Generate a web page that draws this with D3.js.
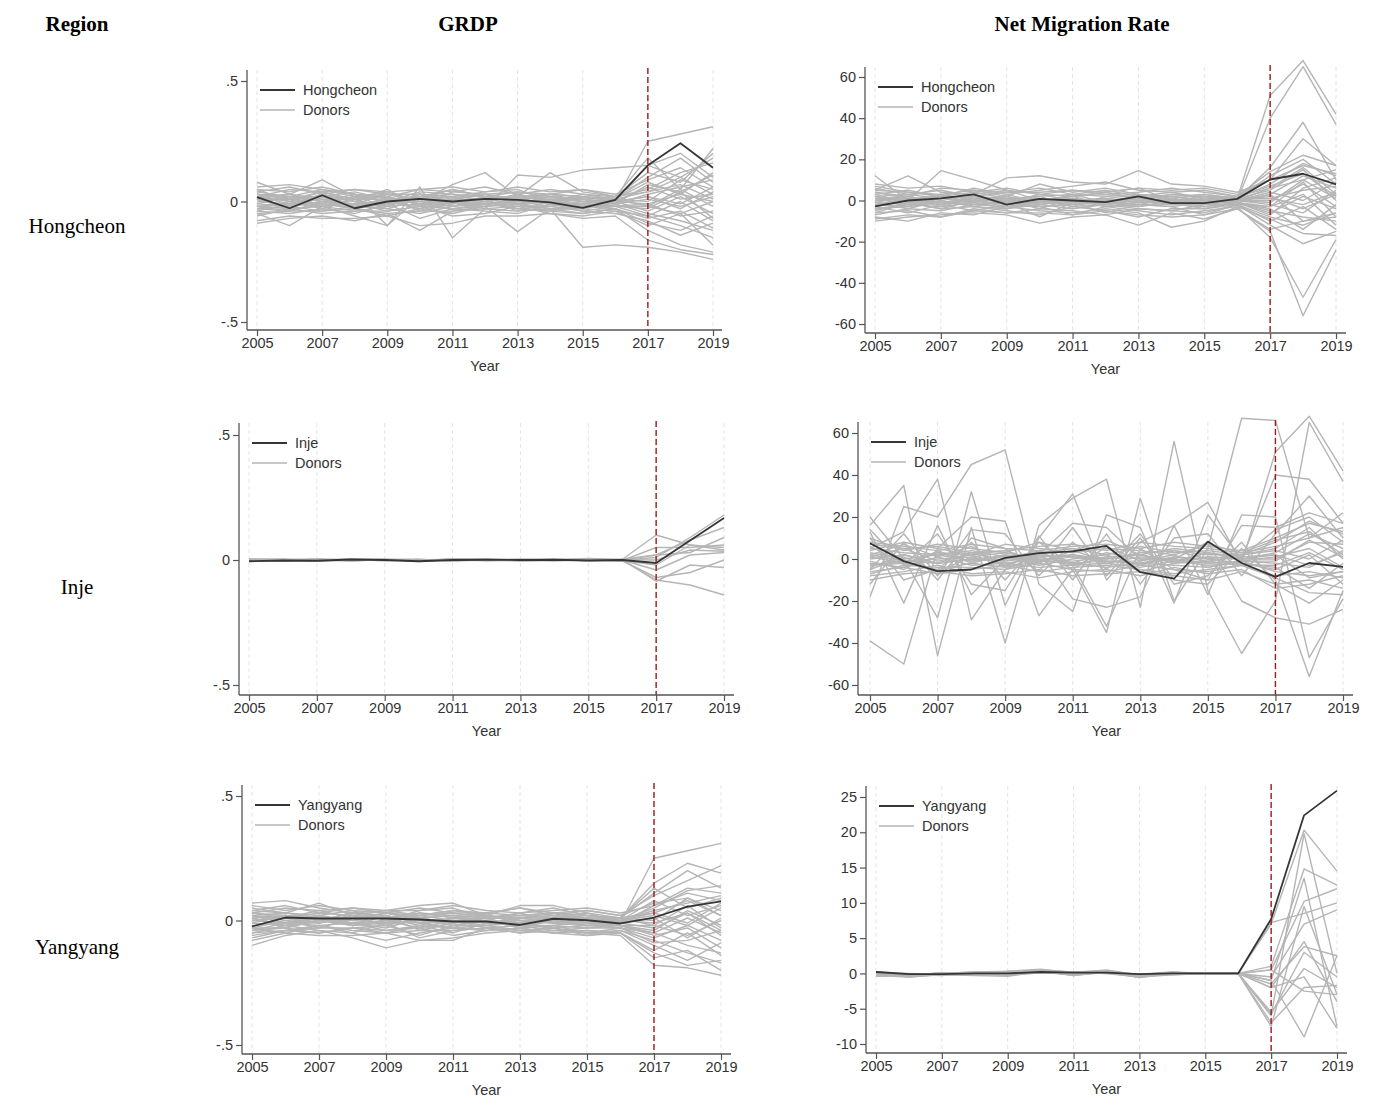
<!DOCTYPE html>
<html>
<head>
<meta charset="utf-8">
<script src="https://cdn.jsdelivr.net/npm/d3@7"></script>
<style>
  body { margin: 0; background: #fff; }
  svg { display: block; }
  .tick text { font-family: "Liberation Sans", Arial, sans-serif; font-size: 14.5px; fill: #333; }
  .axis-title, .legend-text { font-family: "Liberation Sans", Arial, sans-serif; font-size: 14.5px; fill: #333; }
  .head { font-family: "Liberation Serif", "Times New Roman", serif; font-size: 21px; font-weight: bold; fill: #000; }
  .rowlab { font-family: "Liberation Serif", "Times New Roman", serif; font-size: 21px; fill: #000; }
</style>
</head>
<body>
<svg id="chart" width="1376" height="1100"></svg>
<script>
const years = d3.range(2005, 2020);
const xTicks = [2005, 2007, 2009, 2011, 2013, 2015, 2017, 2019];
const treatYear = 2017;

const columnHeads = ["Region", "GRDP", "Net Migration Rate"];
const regions = ["Hongcheon", "Inje", "Yangyang"];

const grdpTicks = [-0.5, 0, 0.5];
const nmrTicks = [-60, -40, -20, 0, 20, 40, 60];
const yangNmrTicks = [-10, -5, 0, 5, 10, 15, 20, 25];

// treated regions
const hongcheonGrdp = [0.018, -0.028, 0.026, -0.028, 0.0, 0.011, 0.0, 0.011, 0.007, -0.004, -0.026, 0.007, 0.15, 0.242, 0.14];
const hongcheonNmr = [-2.8, 0, 1, 3, -2, 0.8, 0, -0.8, 2, -1.3, -1.3, 0.8, 10.2, 13, 7.8];
const injeGrdp = [-0.005, -0.002, -0.003, 0.002, 0, -0.005, 0, 0.001, 0, 0.001, -0.002, 0, -0.012, 0.078, 0.168];
const injeNmr = [7.5, -1, -5.8, -5, 0.5, 2.8, 3.6, 6.2, -6.3, -9.4, 8.3, -1.9, -8.5, -1.9, -3.8];
const yangyangGrdp = [-0.024, 0.012, 0.008, 0.008, 0.008, 0.004, -0.004, -0.004, -0.018, 0.007, 0.001, -0.012, 0.012, 0.056, 0.077];
const yangyangNmr = [0.2, -0.1, -0.1, 0, 0, 0.2, 0.1, 0.1, -0.1, 0, 0, 0, 7.7, 22.4, 25.9];

// donor pools
const hongcheonGrdpDonors = [
  [0.06,0.07,0.05,0.02,0.03,0.01,0.05,0.02,0.00,0.03,0.02,0.00,0.25,0.28,0.31],
  [-0.09,-0.07,-0.06,-0.08,-0.05,-0.12,-0.04,-0.02,-0.125,-0.03,-0.19,-0.18,-0.19,-0.21,-0.24],
  [0.08,0.03,0.09,0.02,0.04,0.00,0.07,0.12,0.02,0.12,0.04,0.02,0.18,0.05,0.22],
  [-0.05,-0.10,-0.02,-0.06,-0.10,0.06,-0.15,-0.03,0.11,0.10,0.13,0.14,0.15,0.20,0.10],
  [0.02,0.05,0.04,0.05,0.03,0.03,0.02,0.04,0.05,0.00,0.02,0.01,0.10,0.18,0.08],
  [-0.03,-0.02,-0.04,-0.02,-0.03,-0.05,-0.02,-0.01,-0.03,-0.04,-0.05,-0.03,-0.12,-0.18,-0.21],
  [0.03,0.01,0.02,0.04,0.01,0.02,0.03,0.02,0.04,0.02,0.01,0.02,0.05,0.12,0.16],
  [-0.02,-0.04,-0.01,-0.03,-0.06,-0.03,-0.05,-0.02,-0.01,-0.03,-0.03,-0.04,-0.06,-0.10,-0.15],
  [0.01,0.03,0.00,0.02,0.02,-0.01,0.01,0.03,0.01,0.02,0.00,-0.01,0.03,0.06,0.09],
  [0.00,-0.01,0.03,0.00,-0.02,0.02,0.00,0.01,-0.01,0.00,-0.02,0.00,-0.04,0.02,-0.05],
  [0.04,0.02,0.05,0.03,0.00,0.04,0.03,0.00,0.03,0.05,0.03,0.01,0.08,0.03,0.12],
  [-0.04,-0.05,-0.03,-0.05,-0.01,-0.07,-0.03,-0.04,-0.05,-0.01,-0.04,-0.05,-0.08,-0.14,-0.09],
  [0.02,0.00,0.01,-0.01,0.03,0.00,-0.01,0.01,0.02,0.01,0.00,0.00,0.02,-0.03,0.04],
  [-0.01,0.02,-0.02,0.01,-0.03,0.01,0.02,-0.01,0.00,-0.02,-0.01,-0.02,-0.02,0.05,-0.02],
  [0.05,0.04,0.06,0.03,0.02,0.05,0.04,0.03,0.04,0.03,0.05,0.02,0.12,0.08,0.20],
  [-0.06,-0.03,-0.05,-0.04,-0.04,-0.02,-0.06,-0.05,-0.02,-0.05,-0.06,-0.04,-0.10,-0.05,-0.18],
  [0.00,0.01,-0.01,0.02,0.00,-0.02,0.01,0.00,-0.02,0.01,0.02,0.01,0.00,0.09,0.05],
  [-0.02,-0.01,0.01,-0.02,0.01,-0.01,-0.02,0.02,0.01,-0.01,-0.01,-0.01,-0.05,-0.08,-0.12],
  [0.01,-0.03,0.02,0.00,-0.01,0.03,0.00,-0.02,0.00,0.01,-0.02,0.00,0.06,0.01,0.03],
  [-0.03,0.00,-0.03,0.01,0.02,-0.04,-0.01,0.01,-0.04,0.00,0.01,-0.02,-0.03,0.04,-0.07],
  [0.03,0.02,0.00,0.03,-0.10,0.02,0.05,0.02,0.01,0.03,0.02,0.01,0.15,0.10,0.18],
  [-0.08,-0.06,-0.07,-0.07,-0.06,-0.10,-0.09,-0.06,-0.06,-0.05,-0.07,-0.06,-0.16,-0.20,-0.22],
  [0.04,0.06,0.03,0.05,0.04,0.05,0.06,0.04,0.06,0.04,0.05,0.03,0.09,0.14,0.06],
  [-0.01,-0.02,0.00,-0.01,0.00,-0.03,0.00,-0.03,-0.02,-0.02,0.00,-0.01,0.01,-0.02,0.02],
  [0.02,0.03,0.01,0.01,0.01,0.01,-0.02,0.00,0.03,-0.01,0.01,0.00,-0.01,0.03,0.00],
  [-0.05,-0.04,-0.04,-0.03,-0.05,-0.04,-0.04,-0.03,-0.04,-0.03,-0.05,-0.03,-0.07,-0.04,-0.11],
  [0.05,0.00,0.04,0.00,0.05,-0.02,0.04,0.06,0.03,0.00,0.03,0.02,0.04,0.07,0.01],
  [-0.02,-0.03,-0.02,-0.04,-0.02,-0.01,-0.03,-0.01,-0.01,-0.04,-0.02,-0.02,-0.01,-0.06,-0.04],
  [0.01,-0.02,0.03,-0.02,0.00,0.01,-0.01,0.02,0.00,-0.01,-0.03,0.00,0.02,-0.01,0.06],
  [-0.03,-0.04,0.00,-0.03,-0.01,0.00,-0.02,0.00,-0.03,-0.02,-0.04,-0.02,-0.06,0.00,-0.08],
  [0.03,0.01,0.04,0.01,0.03,0.01,0.02,0.01,0.02,0.03,0.00,0.01,0.04,0.10,0.03],
  [-0.04,-0.01,-0.02,-0.01,-0.04,-0.02,-0.03,-0.02,-0.01,-0.03,-0.02,-0.03,-0.09,-0.12,-0.06],
  [0.00,0.02,0.02,-0.03,0.02,-0.01,0.00,-0.01,0.01,0.02,0.01,-0.01,0.07,0.04,0.11],
  [0.02,-0.01,-0.01,0.02,-0.02,0.03,0.01,0.03,-0.01,0.00,-0.01,0.01,-0.02,-0.05,0.00]
];

const hongcheonNmrDonors = [
  [2,-1,3,0,1,-2,0,1,-1,2,0,1,51,68,42],
  [-4,-2,-3,-1,-4,0,-3,-2,-3,-1,-2,0,40,65,37],
  [12,0,14.5,10,5,3,2,4,1,3,2,1,16,38,10],
  [-10,-8,-7,-6,-7,-11,-8,-7,-12,-6,-9,-4,-15,-56,-24],
  [5,12,4,3,11,12,9,8,14.5,8,7,4,10,30,17],
  [-8,-10,-6,-7,-3,-5,-6,-4,-6,-13,-10,-3,-18,-47,-19],
  [7,4,2,6,3,5,7,9,5,4,5,2,14,22,17],
  [-6,-5,-8,-4,-6,-4,-5,-7,-4,-5,-6,-2,-12,-21,-15],
  [3,5,2,4,1,2,3,2,3,1,3,1,8,18,12],
  [-2,-3,-1,-2,-3,-1,-2,-1,-2,-3,-1,-1,-5,-8,-10],
  [0,1,-1,1,0,1,-1,0,1,0,-1,0,3,12,6],
  [6,3,5,2,4,4,5,3,4,6,4,2,6,10,15],
  [-5,-1,-4,-3,-5,-7,-3,-5,-8,-4,-4,-2,-8,-12,-6],
  [1,-2,2,-1,2,-2,1,-2,0,-1,1,0,2,-4,3],
  [4,2,6,5,2,8,4,6,3,2,3,1,12,20,8],
  [-3,-6,-2,-5,-2,-3,-7,-3,-5,-7,-5,-3,-9,-16,-17],
  [2,3,1,3,5,0,2,4,6,0,2,1,5,15,0],
  [-7,-4,-5,-2,-1,-8,-1,-6,-2,-3,-7,-2,-3,3,-12],
  [1,0,3,-2,-1,3,0,1,-1,1,-1,0,0,8,-3],
  [-1,2,-2,0,-2,-1,3,-1,2,-2,0,0,-2,-6,5],
  [8,6,7,4,6,3,5,4,6,5,6,3,10,17,13],
  [-9,-7,-8,-5,-6,-6,-7,-5,-7,-8,-7,-4,-14,-10,-8],
  [3,-1,1,2,-2,2,-3,2,0,3,2,0,4,0,9],
  [-2,1,-3,1,0,-4,1,-3,-2,-2,-3,-1,-6,2,-4],
  [5,4,3,5,4,6,3,5,2,4,1,2,7,13,2],
  [-4,-3,0,-3,-4,-2,-4,-2,-4,-5,-2,-2,-10,-3,-14],
  [0,2,-1,0,2,-1,2,-2,3,-2,1,1,1,5,7],
  [-1,-2,2,-1,1,0,-1,1,-1,0,-3,-1,-4,-14,-2],
  [-3,0,-2,2,-1,1,-2,0,-2,1,-2,0,-1,10,1],
  [2,-3,1,-1,3,-1,1,-1,2,-2,1,-1,3,-10,-6],
  [-6,-1,-4,0,-3,-2,0,-3,-1,-1,-4,-1,-7,6,11],
  [4,1,2,1,-1,3,2,3,1,2,0,1,1,-2,4],
  [-1,-4,0,-3,0,-3,-2,-1,-3,0,-1,-1,-3,9,-8],
  [1,2,-2,2,1,0,1,-2,1,-1,2,0,6,16,3]
];

const injeGrdpDonors = [
  [0.004,0.002,-0.005,0.003,0.001,-0.004,0.005,0.002,0.001,-0.002,0.006,0.002,0.10,0.06,0.04],
  [-0.003,0.001,0.002,-0.002,0,0.003,-0.004,0,0.003,0.001,-0.002,0,0.02,0.08,0.13],
  [0.002,-0.003,0.004,0.001,-0.002,-0.001,0.002,-0.003,-0.002,0.003,0.004,-0.002,0.05,0.05,0.06],
  [-0.005,0.003,-0.002,0.004,0.002,-0.006,0.001,0.003,-0.004,0,0.002,0.003,0.02,0.03,0.09],
  [0.001,0,0.003,-0.003,0.003,0.002,-0.002,0.001,0.002,-0.003,0,0.001,0,0.04,0.035],
  [-0.001,-0.004,0.001,0.002,-0.001,-0.002,0.003,-0.001,0,0.002,-0.003,-0.002,-0.02,0.06,0.05],
  [0.003,0.002,-0.003,0,0.001,0.001,-0.003,0.002,-0.001,-0.001,0.003,0,-0.04,0.02,0.03],
  [-0.002,-0.001,0,-0.004,0.002,-0.003,0,-0.002,0.001,0.002,-0.001,-0.003,-0.07,-0.05,0.0],
  [0.002,0.001,-0.001,0.002,-0.003,0.001,0.002,0.001,-0.003,-0.002,0.001,-0.001,-0.08,-0.10,-0.14],
  [0,0.003,0.002,-0.001,0,-0.002,-0.001,0.003,0.002,0.001,-0.002,0.002,-0.085,-0.02,-0.03],
  [-0.004,-0.002,0.001,0.001,0.002,0,0.001,-0.001,0,0.001,0.002,-0.001,0.01,0.09,0.18]
];

const injeNmrDonors = [
  [20,0,-28,32,-22,10,31,-10,8,16,27,-2,51,68,42],
  [-39,-50,5,20,18,-27,-5,-35,29,-20,5,67,66,10,22],
  [16,35,-46,15,-40,16,29,38,-23,56,-15,-45,-20,65,37],
  [-18,25,20,45,52,-12,-25,21,15,-21,21,0,40,38,17],
  [13,-21,16,-17,0,4,-19,-23,-18,16,-17,21,20,-47,-19],
  [5,13,38,-29,-5,2,17,15,0,0,8,-20,-28,-31,-24],
  [10,-10,-5,8,-10,8,-3,-32,5,-5,-10,16,15,22,17],
  [-5,12,-8,14,12,-8,8,-5,12,-10,-12,5,-10,-56,-15],
  [14,-3,12,-12,-15,11,-10,12,-12,10,12,-8,12,30,10],
  [-12,8,-10,10,5,-6,15,-8,10,-12,-8,8,-12,-21,-10],
  [5,3,2,4,1,3,5,2,6,3,4,2,8,18,12],
  [-6,-4,-7,-5,-3,-6,-4,-3,-5,-7,-5,-3,-9,-16,-17],
  [8,6,4,7,5,4,6,7,5,8,6,4,10,17,13],
  [-3,-2,-5,-2,-4,-1,-2,-4,-2,-3,-4,-1,-6,-8,-6],
  [2,-1,0,1,3,0,-1,1,2,-2,1,0,3,12,5],
  [-8,-6,-3,-7,-6,-9,-6,-5,-8,-4,-7,-5,-14,-12,-8],
  [0,2,-2,3,-1,2,1,-1,-2,1,-1,1,2,-3,3],
  [4,8,5,2,7,5,3,5,4,2,7,3,6,10,15],
  [-2,-4,1,-3,-2,-4,-3,-2,-4,-1,-3,-2,-4,-14,-2],
  [10,4,7,5,3,8,4,9,2,5,3,1,14,20,8],
  [-10,-7,-6,-8,-7,-5,-8,-7,-6,-8,-10,-6,-12,-10,-14],
  [3,0,2,-1,0,1,2,-2,1,0,-2,-1,1,5,-4],
  [-4,2,-2,0,1,-3,0,2,-3,1,0,-2,-5,2,-12],
  [6,-2,3,2,4,-1,2,0,3,4,2,2,5,15,0],
  [-7,-3,-4,-4,-5,-2,-5,-6,-3,-5,-6,-3,-8,-6,-9],
  [1,5,-1,2,-3,3,-2,3,0,-1,3,0,0,8,7],
  [-1,-5,4,-2,2,-2,4,-1,-1,2,-4,-1,-2,-4,4],
  [7,5,6,3,4,6,7,4,8,6,5,3,9,13,2],
  [-5,1,-6,1,-2,0,-3,1,-6,-2,-1,-3,-3,3,-5],
  [2,7,1,6,-4,4,-5,6,-1,4,0,2,4,0,9],
  [-3,-1,-2,0,-1,1,-2,-1,-2,0,-2,-1,-1,9,1],
  [1,-2,3,-1,2,-1,1,0,2,-1,1,0,2,-9,-6]
];

const yangyangGrdpDonors = [
  [0.07,0.08,0.05,0.03,0.04,0.02,0.03,0.01,0.02,0.01,0.03,-0.01,0.25,0.28,0.31],
  [-0.10,-0.06,-0.04,-0.07,-0.11,-0.08,-0.08,-0.03,-0.05,-0.04,-0.05,-0.06,-0.18,-0.19,-0.22],
  [0.05,0.03,0.07,0.02,0.04,0.06,0.07,0.02,0.06,0.06,0.03,0.01,0.15,0.23,0.19],
  [-0.07,-0.04,-0.02,-0.05,-0.08,-0.05,-0.03,-0.04,-0.03,-0.05,-0.04,-0.05,-0.15,-0.12,-0.20],
  [0.03,0.05,0.04,0.05,0.03,0.02,0.04,0.03,0.05,0.02,0.04,0.02,0.10,0.16,0.22],
  [-0.04,-0.03,-0.05,-0.03,-0.02,-0.06,-0.02,-0.02,-0.04,-0.03,-0.06,-0.04,-0.08,-0.13,-0.17],
  [0.02,0.01,0.03,0.02,0.01,0.03,0.02,0.03,0.02,0.03,0.01,0.00,0.05,0.12,0.14],
  [-0.03,-0.05,-0.02,-0.04,-0.05,-0.02,-0.05,-0.01,-0.02,-0.04,-0.03,-0.03,-0.05,-0.10,-0.13],
  [0.01,0.02,0.00,0.03,0.02,-0.01,0.01,0.02,0.00,0.01,0.02,0.00,0.04,0.07,0.10],
  [0.00,-0.01,0.02,-0.01,-0.03,0.01,-0.01,0.00,-0.02,0.00,-0.01,-0.01,-0.03,0.03,-0.06],
  [0.04,0.03,0.02,0.04,0.00,0.04,0.05,0.01,0.03,0.05,0.02,0.01,0.13,0.05,0.09],
  [-0.05,-0.02,-0.04,-0.05,-0.01,-0.07,-0.04,-0.03,-0.05,-0.02,-0.05,-0.04,-0.10,-0.16,-0.09],
  [0.02,0.00,0.01,0.00,0.03,0.00,0.00,0.01,0.01,0.02,0.00,0.00,0.02,-0.02,0.05],
  [-0.01,0.02,-0.01,0.01,-0.02,0.01,0.02,-0.01,0.00,-0.01,-0.02,-0.02,-0.02,0.06,-0.03],
  [0.06,0.04,0.06,0.04,0.03,0.05,0.03,0.03,0.05,0.03,0.04,0.02,0.07,0.09,0.04],
  [-0.06,-0.04,-0.05,-0.03,-0.04,-0.03,-0.06,-0.04,-0.03,-0.05,-0.04,-0.05,-0.12,-0.05,-0.14],
  [0.00,0.01,-0.01,0.02,0.01,-0.02,0.01,0.00,-0.01,0.01,0.01,0.01,0.00,0.09,0.02],
  [-0.02,-0.01,0.01,-0.02,0.00,-0.01,-0.03,0.02,0.00,-0.01,-0.01,-0.02,-0.06,-0.03,-0.11],
  [0.01,-0.03,0.02,0.00,-0.01,0.02,0.00,-0.02,0.01,0.00,-0.02,0.00,0.08,0.02,0.06],
  [-0.03,0.00,-0.03,0.01,0.02,-0.04,-0.01,0.01,-0.03,0.00,0.01,-0.02,-0.04,0.04,-0.02],
  [0.03,0.02,0.00,0.03,0.01,0.02,0.04,0.02,0.01,0.03,0.02,0.01,0.11,0.20,0.13],
  [-0.08,-0.05,-0.06,-0.06,-0.05,-0.08,-0.07,-0.05,-0.04,-0.05,-0.06,-0.05,-0.13,-0.18,-0.16],
  [0.04,0.06,0.03,0.05,0.04,0.04,0.06,0.04,0.03,0.04,0.05,0.03,0.06,0.11,0.08],
  [-0.01,-0.02,0.00,-0.01,0.00,-0.03,0.00,-0.03,-0.02,-0.02,0.00,-0.01,0.01,-0.07,0.01],
  [0.02,0.03,0.01,0.01,0.01,0.01,-0.02,0.00,0.03,-0.01,0.01,0.00,-0.01,0.03,-0.04],
  [-0.05,-0.04,-0.03,-0.03,-0.05,-0.04,-0.04,-0.03,-0.04,-0.03,-0.05,-0.03,-0.07,-0.02,-0.08],
  [0.01,-0.02,0.02,-0.02,0.00,0.01,-0.01,0.02,0.00,-0.01,-0.02,0.00,0.03,-0.01,0.07],
  [-0.03,-0.03,0.00,-0.02,-0.01,0.00,-0.02,0.00,-0.03,-0.02,-0.03,-0.02,-0.05,0.01,-0.05],
  [0.03,0.01,0.04,0.01,0.03,0.01,0.02,0.01,0.02,0.03,0.00,0.01,0.03,0.08,0.02],
  [-0.04,-0.01,-0.02,-0.01,-0.04,-0.02,-0.03,-0.02,-0.01,-0.03,-0.02,-0.03,-0.09,-0.08,-0.04],
  [0.00,0.02,0.01,-0.02,0.02,-0.01,0.00,-0.01,0.01,0.02,0.01,-0.01,0.06,0.13,0.11],
  [0.02,-0.01,-0.01,0.02,-0.02,0.03,0.01,0.02,-0.01,0.00,-0.01,0.01,-0.02,-0.06,0.00]
];

const yangyangNmrDonors = [
  [-0.3,-0.5,-0.2,-0.3,-0.4,0.3,-0.3,0.2,-0.5,-0.2,0,0,7,20.3,14.5],
  [0.1,-0.2,0,0.2,0.3,0.6,0.1,0.5,-0.2,0.1,0,0,-6,19.8,0],
  [0,-0.3,-0.1,0,-0.2,0.4,-0.1,0.3,-0.4,0,0,0,1,14.8,12.5],
  [-0.2,-0.4,0.1,-0.1,0.1,0.5,0.2,0.4,-0.3,0.2,-0.1,0,-1,13.5,-7.5],
  [0.1,-0.1,-0.2,0.1,-0.1,0.2,0,0.1,-0.5,-0.1,0,0,0.5,10.2,12],
  [-0.1,-0.3,0,-0.2,0,0.3,-0.2,0.2,-0.2,0.1,0,0,-7.5,9.5,-3],
  [0.2,0,-0.1,0,-0.3,0.1,0.2,0,-0.1,0.2,0,0,7.2,8.5,10],
  [-0.2,-0.2,0,0.2,0.2,0.4,-0.3,0.3,-0.4,-0.1,0,0,-2,4.5,-4],
  [0,-0.4,-0.2,-0.1,-0.1,0.2,0.1,0.1,-0.3,0,-0.1,0,-1.5,3.8,2.5],
  [-0.4,-0.3,0.1,0.1,0.1,0.3,-0.1,0.2,-0.6,0.1,0,0,-5.5,0.7,-2],
  [0.1,-0.5,-0.1,-0.2,-0.2,0.5,0,0.4,-0.2,-0.2,0,0,-7,-2,-1.7],
  [-0.1,-0.1,0,0,0.3,0.2,-0.2,0.1,-0.1,0.1,-0.1,0,-1,-9,2.5],
  [0,-0.2,-0.3,0.1,0,0.4,0.1,0.3,-0.4,0,0,0,0.5,-2.5,-3],
  [-0.3,-0.4,0,-0.1,-0.1,0.1,-0.1,0.2,-0.3,0.1,0,0,-0.5,7,9],
  [0.2,-0.1,-0.1,0,0.1,0.3,0,0.1,-0.2,-0.1,0,0,-2,-0.5,-7.8],
  [-0.2,-0.3,0.1,0,-0.1,0.2,0.2,0,-0.5,0,0,0,-5.8,3,-0.5]
];

// ".5" / "-.5" the Stata way
function stataNum(d) {
  if (d === 0) return "0";
  if (Number.isInteger(d)) return String(d);
  return String(d).replace(/^(-?)0\./, "$1.");
}

const panels = [
  { name: regions[0], treated: hongcheonGrdp, donors: hongcheonGrdpDonors, ticks: grdpTicks,
    axX: 247, axY: 330, x0: 257, x1: 713, right: 722, top: 70, yLo: 322, yHi: 81 },
  { name: regions[0], treated: hongcheonNmr, donors: hongcheonNmrDonors, ticks: nmrTicks,
    axX: 865, axY: 333, x0: 875, x1: 1336, right: 1346, top: 67, yLo: 324, yHi: 77 },
  { name: regions[1], treated: injeGrdp, donors: injeGrdpDonors, ticks: grdpTicks,
    axX: 239, axY: 695, x0: 249, x1: 724, right: 734, top: 423, yLo: 685, yHi: 435 },
  { name: regions[1], treated: injeNmr, donors: injeNmrDonors, ticks: nmrTicks,
    axX: 858, axY: 695, x0: 870, x1: 1343, right: 1353, top: 422, yLo: 685, yHi: 433 },
  { name: regions[2], treated: yangyangGrdp, donors: yangyangGrdpDonors, ticks: grdpTicks,
    axX: 242, axY: 1054, x0: 252, x1: 721, right: 731, top: 785, yLo: 1045, yHi: 796 },
  { name: regions[2], treated: yangyangNmr, donors: yangyangNmrDonors, ticks: yangNmrTicks,
    axX: 866, axY: 1053, x0: 876, x1: 1337, right: 1347, top: 786, yLo: 1044, yHi: 797 }
];

const svg = d3.select("#chart");

// column heads and row labels
const headX = [77, 468, 1082];
columnHeads.forEach((t, i) => {
  svg.append("text").attr("class", "head").attr("x", headX[i]).attr("y", 31)
    .attr("text-anchor", "middle").text(t);
});
const rowY = [233, 594, 954];
regions.forEach((t, i) => {
  svg.append("text").attr("class", "rowlab").attr("x", 77).attr("y", rowY[i])
    .attr("text-anchor", "middle").text(t);
});

function drawPanel(p) {
  const g = svg.append("g");
  const x = d3.scaleLinear().domain([2005, 2019]).range([p.x0, p.x1]);
  const y = d3.scaleLinear().domain(d3.extent(p.ticks)).range([p.yLo, p.yHi]);

  // faint dashed grid at each labelled year
  g.selectAll(".grid").data(xTicks).join("line")
    .attr("x1", d => x(d)).attr("x2", d => x(d))
    .attr("y1", p.top).attr("y2", p.axY)
    .attr("stroke", "#e4e4e4").attr("stroke-width", 1).attr("stroke-dasharray", "4,3");

  const line = d3.line().x((d, i) => x(years[i])).y(d => y(d));

  g.selectAll(".donor").data(p.donors).join("path")
    .attr("d", line).attr("fill", "none")
    .attr("stroke", "#b5b5b5").attr("stroke-width", 1.4).attr("stroke-linejoin", "round");

  g.append("path").datum(p.treated).attr("d", line).attr("fill", "none")
    .attr("stroke", "#353535").attr("stroke-width", 1.8).attr("stroke-linejoin", "round");

  // treatment year
  g.append("line")
    .attr("x1", x(treatYear)).attr("x2", x(treatYear))
    .attr("y1", p.top - 2).attr("y2", p.axY)
    .attr("stroke", "#9b1c1c").attr("stroke-width", 1.4).attr("stroke-dasharray", "6,3");

  // axes
  const yAxis = g.append("g").attr("transform", `translate(${p.axX},0)`)
    .call(d3.axisLeft(y).tickValues(p.ticks).tickFormat(stataNum).tickSize(6).tickSizeOuter(0).tickPadding(3));
  yAxis.select(".domain").remove();
  yAxis.selectAll(".tick line").attr("stroke", "#555").attr("stroke-width", 1.2);
  g.append("line").attr("x1", p.axX).attr("x2", p.axX).attr("y1", p.top).attr("y2", p.axY)
    .attr("stroke", "#555").attr("stroke-width", 1.3);

  const xAxis = g.append("g").attr("transform", `translate(0,${p.axY})`)
    .call(d3.axisBottom(x).tickValues(xTicks).tickFormat(d3.format("d")).tickSize(6).tickSizeOuter(0).tickPadding(2));
  xAxis.select(".domain").remove();
  xAxis.selectAll(".tick line").attr("stroke", "#555").attr("stroke-width", 1.2);
  g.append("line").attr("x1", p.axX).attr("x2", p.right).attr("y1", p.axY).attr("y2", p.axY)
    .attr("stroke", "#555").attr("stroke-width", 1.3);

  g.append("text").attr("class", "axis-title")
    .attr("x", (p.x0 + p.x1) / 2).attr("y", p.axY + 41)
    .attr("text-anchor", "middle").text("Year");

  // legend
  const legend = [
    { label: p.name, color: "#353535", w: 1.8 },
    { label: "Donors", color: "#b5b5b5", w: 1.4 }
  ];
  const lg = g.append("g").attr("transform", `translate(${p.axX + 13},${p.top + 20})`);
  legend.forEach((l, i) => {
    lg.append("line").attr("x1", 0).attr("x2", 35).attr("y1", i * 20).attr("y2", i * 20)
      .attr("stroke", l.color).attr("stroke-width", l.w);
    lg.append("text").attr("class", "legend-text").attr("x", 43).attr("y", i * 20 + 5).text(l.label);
  });
}

panels.forEach(drawPanel);
</script>
</body>
</html>
